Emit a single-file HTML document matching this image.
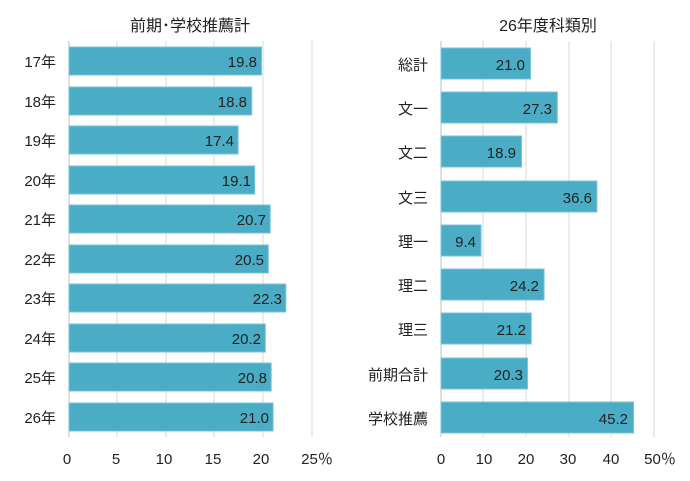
<!DOCTYPE html>
<html><head><meta charset="utf-8"><style>
body{margin:0;background:#fff}
text{font-family:"Liberation Sans","Noto Sans CJK JP",sans-serif;fill:#222}
</style></head><body>
<svg width="690" height="476" viewBox="0 0 690 476" xmlns="http://www.w3.org/2000/svg">
<g stroke="#d9d9d9" stroke-width="1">
<line x1="117" y1="41" x2="117" y2="437"/><line x1="166" y1="41" x2="166" y2="437"/><line x1="214" y1="41" x2="214" y2="437"/><line x1="263" y1="41" x2="263" y2="437"/><line x1="312" y1="41" x2="312" y2="437"/>
<line x1="483" y1="41" x2="483" y2="437"/><line x1="526" y1="41" x2="526" y2="437"/><line x1="569" y1="41" x2="569" y2="437"/><line x1="611" y1="41" x2="611" y2="437"/><line x1="654" y1="41" x2="654" y2="437"/>
</g>
<g stroke="#bfbfbf"><line x1="69" y1="41" x2="69" y2="437"/><line x1="441" y1="41" x2="441" y2="437"/></g>
<text x="190" y="31" font-size="16" text-anchor="middle">前期･学校推薦計</text>
<text x="548" y="31" font-size="16" text-anchor="middle">26年度科類別</text>
<g fill="#4bacc6" stroke="#7cc4d6" stroke-width="1">
<rect x="69" y="47" width="192.5" height="28"/>
<rect x="69" y="87" width="182.7" height="28"/>
<rect x="69" y="126" width="169.1" height="28"/>
<rect x="69" y="166" width="185.7" height="28"/>
<rect x="69" y="205" width="201.2" height="28"/>
<rect x="69" y="245" width="199.3" height="28"/>
<rect x="69" y="284" width="216.8" height="28"/>
<rect x="69" y="324" width="196.3" height="28"/>
<rect x="69" y="363" width="202.2" height="28"/>
<rect x="69" y="403" width="204.1" height="28"/>
<rect x="441" y="48" width="89.5" height="31"/>
<rect x="441" y="92" width="116.3" height="31"/>
<rect x="441" y="136" width="80.5" height="31"/>
<rect x="441" y="181" width="155.9" height="31"/>
<rect x="441" y="225" width="40" height="31"/>
<rect x="441" y="269" width="103.1" height="31"/>
<rect x="441" y="313" width="90.3" height="31"/>
<rect x="441" y="358" width="86.5" height="31"/>
<rect x="441" y="402" width="192.6" height="31"/>
</g>
<g font-size="15" text-anchor="end">
<text x="56" y="67">17年</text><text x="56" y="107">18年</text><text x="56" y="146">19年</text><text x="56" y="186">20年</text><text x="56" y="225">21年</text><text x="56" y="265">22年</text><text x="56" y="304">23年</text><text x="56" y="344">24年</text><text x="56" y="383">25年</text><text x="56" y="423">26年</text>
<text x="428" y="70">総計</text><text x="428" y="114">文一</text><text x="428" y="158">文二</text><text x="428" y="203">文三</text><text x="428" y="247">理一</text><text x="428" y="291">理二</text><text x="428" y="335">理三</text><text x="428" y="380">前期合計</text><text x="428" y="424">学校推薦</text>
</g>
<g font-size="15" text-anchor="end" style="fill:#333">
<text x="257" y="67">19.8</text><text x="247" y="107">18.8</text><text x="234" y="146">17.4</text><text x="251" y="186">19.1</text><text x="266" y="225">20.7</text><text x="264" y="265">20.5</text><text x="282" y="304">22.3</text><text x="261" y="344">20.2</text><text x="267" y="383">20.8</text><text x="269" y="423">21.0</text>
<text x="525" y="70">21.0</text><text x="552" y="114">27.3</text><text x="516" y="158">18.9</text><text x="592" y="203">36.6</text><text x="476" y="247">9.4</text><text x="539" y="291">24.2</text><text x="526" y="335">21.2</text><text x="523" y="380">20.3</text><text x="628" y="424">45.2</text>
</g>
<g font-size="15" text-anchor="middle">
<text x="67" y="464">0</text><text x="116" y="464">5</text><text x="164" y="464">10</text><text x="213" y="464">15</text><text x="261" y="464">20</text><text x="317" y="464">25％</text>
<text x="441" y="464">0</text><text x="484" y="464">10</text><text x="526" y="464">20</text><text x="568" y="464">30</text><text x="611" y="464">40</text><text x="660" y="464">50％</text>
</g>
</svg>
</body></html>
